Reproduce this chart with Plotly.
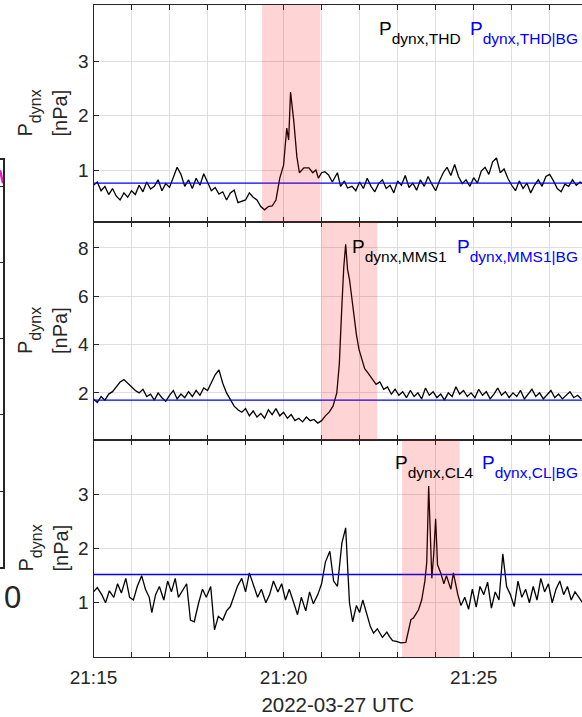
import pandas as pd
import plotly.graph_objects as go

# ---------------- data ----------------
BASE = "2022-03-27 21:15:00"
X_END_S = 771  # visible end of the time axis, seconds after BASE

# THD dynamic pressure (seconds after BASE, nPa)
thd_t = [0, 6, 12, 18, 24, 30, 36, 42, 48, 54,
         60, 66, 72, 78, 84, 90, 96, 102, 108, 114,
         120, 126, 132, 138, 144, 150, 156, 162, 168, 174,
         180, 186, 192, 198, 204, 210, 216, 222, 228, 234,
         240, 246, 252, 258, 264, 270, 276, 282, 288, 294,
         300, 305, 308, 311, 316, 321, 325, 332, 340, 346,
         351, 355, 360, 365, 371, 377, 385, 390, 396, 401,
         408, 414, 420, 426, 432, 438, 444, 450, 456, 462,
         468, 474, 480, 486, 492, 498, 504, 510, 516, 522,
         528, 534, 540, 546, 552, 558, 564, 570, 576, 582,
         588, 594, 600, 606, 612, 618, 624, 630, 636, 642,
         648, 654, 660, 666, 672, 678, 684, 690, 696, 702,
         708, 714, 720, 726, 732, 738, 744, 750, 756, 762,
         768, 774]
thd_v = [0.72, 0.78, 0.62, 0.70, 0.55, 0.66, 0.52, 0.45, 0.58, 0.50,
         0.62, 0.55, 0.72, 0.60, 0.78, 0.65, 0.70, 0.82, 0.62, 0.75,
         0.68, 0.85, 1.05, 0.92, 0.70, 0.82, 0.66, 0.85, 0.72, 0.93,
         0.78, 0.62, 0.68, 0.56, 0.60, 0.45, 0.58, 0.63, 0.40, 0.42,
         0.45, 0.58, 0.50, 0.45, 0.33, 0.27, 0.33, 0.34, 0.45, 0.85,
         1.09, 1.77, 1.55, 2.43, 1.91, 1.24, 0.95, 1.04, 1.04, 0.95,
         1.00, 0.85, 0.95, 0.97, 0.91, 0.78, 0.95, 0.70, 0.80, 0.67,
         0.70, 0.62, 0.78, 0.66, 0.85, 0.70, 0.60, 0.75, 0.82, 0.66,
         0.72, 0.58, 0.80, 0.72, 0.90, 0.68, 0.76, 0.63, 0.82, 0.70,
         0.88, 0.74, 0.62, 0.80, 0.95, 1.05, 0.90, 1.10, 0.88, 0.75,
         0.82, 0.70, 0.86, 0.76, 0.98, 1.05, 0.92, 1.15, 1.22, 0.95,
         1.02, 0.85, 0.72, 0.62, 0.80, 0.66, 0.76, 0.58, 0.72, 0.82,
         0.70, 0.88, 0.92, 0.80, 0.66, 0.60, 0.74, 0.70, 0.82, 0.72,
         0.78, 0.74]

# MMS1 dynamic pressure
mms_t = [0, 6, 12, 18, 24, 30, 36, 42, 48, 54,
         60, 66, 72, 78, 84, 90, 96, 102, 108, 114,
         120, 126, 132, 138, 144, 150, 156, 162, 168, 174,
         180, 186, 192, 198, 204, 210, 216, 222, 228, 234,
         240, 246, 252, 258, 264, 270, 276, 282, 288, 294,
         300, 306, 312, 318, 324, 330, 336, 342, 348, 354,
         360, 366, 372, 378, 384, 388, 392, 395, 398, 401,
         404, 407, 411, 415, 419, 423, 428, 434, 440, 446,
         452, 458, 464, 470, 476, 482, 488, 494, 500, 506,
         512, 518, 524, 530, 536, 542, 548, 554, 560, 566,
         572, 578, 584, 590, 596, 602, 608, 614, 620, 626,
         632, 638, 644, 650, 656, 662, 668, 674, 680, 686,
         692, 698, 704, 710, 716, 722, 728, 734, 740, 746,
         752, 758, 764, 770]
mms_v = [1.75, 1.60, 1.85, 1.70, 1.95, 2.05, 2.25, 2.45, 2.55, 2.40,
         2.25, 2.10, 2.00, 2.15, 1.85, 1.95, 1.70, 2.00, 1.80, 1.65,
         1.90, 2.10, 1.75, 1.95, 1.80, 2.05, 1.85, 2.10, 1.90, 2.20,
         2.10, 2.45, 2.75, 2.95, 2.40, 2.00, 1.70, 1.45, 1.30, 1.20,
         1.35, 1.05, 1.25, 1.00, 1.15, 0.95, 1.30, 1.10, 1.35, 1.05,
         1.20, 0.95, 1.10, 0.85, 0.95, 0.80, 1.00, 0.85, 0.90, 0.75,
         0.85, 1.05, 1.20, 1.45, 2.00, 3.20, 5.60, 7.20, 8.15, 7.10,
         6.70, 6.00, 5.10, 4.40, 3.80, 3.40, 3.00, 2.80, 2.55, 2.35,
         2.45, 2.15, 2.25, 1.95, 2.15, 1.90, 2.05, 1.80, 2.10, 1.85,
         2.00, 1.75, 2.20, 1.90, 2.05, 1.80, 1.95, 1.70, 2.00, 1.85,
         2.25, 1.95, 2.10, 1.85, 2.00, 1.80, 2.15, 1.90, 2.05, 1.75,
         1.95, 2.20, 1.90, 2.05, 1.80, 2.00, 1.85, 2.10, 1.75, 1.95,
         2.15, 1.85, 2.00, 1.75, 1.95, 2.10, 1.80, 1.95, 1.75, 1.90,
         2.05, 1.80, 1.90, 1.75]

# Cluster 4 dynamic pressure
cl_t = [0, 6, 13, 19, 25, 32, 38, 44, 51, 57,
        63, 69, 76, 82, 88, 92, 98, 104, 111, 117,
        123, 129, 134, 141, 147, 153, 159, 166, 172, 178,
        185, 191, 197, 204, 210, 216, 221, 227, 234, 240,
        246, 253, 259, 265, 272, 278, 284, 291, 297, 303,
        309, 316, 322, 328, 335, 341, 347, 354, 360, 366,
        373, 379, 385, 392, 398, 404, 409, 415, 420, 425,
        431, 437, 442, 448, 456, 463, 467, 472, 478, 485,
        493, 501, 505, 513, 518, 523, 526, 529, 534, 537,
        540, 543, 548, 553, 557, 564, 568, 575, 580, 586,
        592, 598, 604, 610, 616, 622, 628, 634, 640, 646,
        652, 658, 664, 670, 676, 682, 688, 694, 700, 706,
        712, 718, 724, 730, 736, 742, 748, 754, 760, 766,
        772]
cl_v = [1.20, 1.28, 1.15, 1.00, 1.22, 1.10, 1.35, 1.18, 1.45, 1.10,
        1.05, 1.30, 1.50, 1.25, 1.10, 0.82, 1.15, 1.30, 1.05, 1.40,
        1.20, 1.45, 1.10, 1.25, 1.35, 0.68, 0.65, 1.00, 1.25, 1.10,
        1.30, 0.50, 0.75, 0.68, 0.85, 0.93, 1.10, 1.30, 1.45, 1.20,
        1.55, 1.30, 1.10, 1.25, 1.00, 1.15, 1.40, 1.20, 1.35, 1.05,
        1.25, 1.00, 0.78, 1.10, 0.85, 1.20, 0.98, 1.15, 1.35, 1.75,
        1.95, 1.40, 1.30, 2.10, 2.38, 1.00, 0.65, 0.95, 0.82, 1.05,
        0.80, 0.56, 0.44, 0.52, 0.36, 0.46, 0.38, 0.30, 0.29, 0.26,
        0.27, 0.69, 0.72, 0.87, 1.05, 1.40, 1.75, 3.15, 1.45, 1.90,
        2.55, 1.70, 1.55, 1.35, 1.50, 1.25, 1.55, 1.15, 0.95, 1.10,
        0.88, 1.25, 0.92, 1.30, 1.15, 1.38, 0.90, 1.20, 1.05, 1.90,
        1.30, 1.15, 0.93, 1.40, 1.10, 1.25, 1.00, 1.30, 1.05, 1.45,
        1.20, 1.35, 1.00, 1.25, 1.40, 1.15, 1.30, 1.05, 1.20, 1.10,
        1.00]

# background levels (nPa)
bg_levels = [0.76, 1.70, 1.52]
# shaded event intervals (seconds after BASE)
event_start = [266, 359, 487]
event_end = [358, 448, 578]

y_ranges = [[0.046, 4.028], [0.05, 9.07], [0.0, 4.0]]
y_ticks = [[1, 2, 3], [2, 4, 6, 8], [1, 2, 3]]
black_base = ["P", "P", "P"]
black_sub = ["dynx,THD", "dynx,MMS1", "dynx,CL4"]
blue_sub = ["dynx,THD|BG", "dynx,MMS1|BG", "dynx,CL|BG"]
minute_ticks = list(range(15, 28))
x_title = "2022-03-27 UTC"

# left neighbouring panel fragment
frag_ticks = [1, 2, 3, 4, 5]
frag_x = [0, 1]
frag_y = [5.22, 5.05]

# ---------------- figure ----------------
W, H = 582, 717
MT, MB = 5, 60
PH = H - MT - MB
FONT = "Liberation Sans, Arial, Helvetica, sans-serif"
AX = "#262626"
GRID = "#dedede"


def pyf(y):
    return (H - MB - y) / PH


def pxf(x):
    return x / W


def subtext(base_txt, sub_txt, size):
    return ("%s<sub><span style='font-size:%spx;baseline-shift:-5px'>%s</span></sub>"
            % (base_txt, size, sub_txt))


base = pd.Timestamp(BASE)


def to_time(seconds):
    return [base + pd.Timedelta(seconds=s) for s in seconds]


series = [(thd_t, thd_v), (mms_t, mms_v), (cl_t, cl_v)]
panel_px = [(5, 222), (222, 440), (440, 657)]

fig = go.Figure()
for i, (tt, vv) in enumerate(series):
    k = "" if i == 0 else str(i + 1)
    fig.add_trace(go.Scatter(x=to_time(tt), y=vv, mode="lines",
                             line=dict(color="black", width=1.3),
                             xaxis="x" + k, yaxis="y" + k, showlegend=False))
    fig.add_trace(go.Scatter(x=to_time([0, X_END_S + 60]), y=[bg_levels[i]] * 2, mode="lines",
                             line=dict(color="#0000ff", width=1.4),
                             xaxis="x" + k, yaxis="y" + k, showlegend=False))

fig.add_trace(go.Scatter(x=frag_x, y=frag_y, mode="lines",
                         line=dict(color="#e020c0", width=2.5),
                         xaxis="x4", yaxis="y4", showlegend=False))

tickvals = [base + pd.Timedelta(minutes=m - 15) for m in minute_ticks]
ticktext = ["21:%02d" % m if m % 5 == 0 else "" for m in minute_ticks]

layout = dict(width=W, height=H, margin=dict(l=0, r=0, t=MT, b=MB, autoexpand=False),
              plot_bgcolor="white", paper_bgcolor="white",
              font=dict(family=FONT, size=19, color=AX), showlegend=False)

shapes = []
annotations = []
for i in range(3):
    k = "" if i == 0 else str(i + 1)
    top, bot = panel_px[i]
    xa = dict(type="date", domain=[93.5 / W, 1], anchor="y" + k,
              range=[base, base + pd.Timedelta(seconds=X_END_S)],
              tickmode="array", tickvals=tickvals, ticktext=ticktext,
              showticklabels=(i == 2), ticks="inside", ticklen=5, tickwidth=1,
              tickcolor=AX, showline=True, linecolor=AX, linewidth=1.2,
              mirror="ticks", showgrid=True, gridcolor=GRID, gridwidth=1,
              zeroline=False, automargin=False, ticklabelstandoff=3,
              tickfont=dict(size=19, color=AX))
    if i > 0:
        xa["matches"] = "x"
    if i == 2:
        xa["title"] = dict(text=x_title, font=dict(size=20.5, color=AX), standoff=10)
    ya = dict(domain=[pyf(bot), pyf(top)], anchor="x" + k, range=y_ranges[i],
              tickmode="array", tickvals=y_ticks[i], ticks="inside", ticklen=5,
              tickcolor=AX, showline=True, linecolor=AX, linewidth=1.2,
              mirror=False, showgrid=True, gridcolor=GRID, zeroline=False,
              automargin=False, tickfont=dict(size=19, color=AX))
    layout["xaxis" + k] = xa
    layout["yaxis" + k] = ya

    shapes.append(dict(type="rect", xref="x" + k, yref="y" + k + " domain",
                       x0=base + pd.Timedelta(seconds=event_start[i]),
                       x1=base + pd.Timedelta(seconds=event_end[i]),
                       y0=0, y1=1, fillcolor="rgba(255,0,0,0.17)", line=dict(width=0),
                       layer="above"))
    yc = pyf((top + bot) / 2)
    annotations.append(dict(text=subtext("P", "dynx", 16), xref="paper", yref="paper",
                            x=pxf(29), y=yc, textangle=-90, showarrow=False,
                            xanchor="center", yanchor="middle",
                            font=dict(size=20, color=AX)))
    annotations.append(dict(text="[nPa]", xref="paper", yref="paper",
                            x=pxf(60), y=yc, textangle=-90, showarrow=False,
                            xanchor="center", yanchor="middle",
                            font=dict(size=20, color=AX)))

label_pos = [((377, 468), 33), ((350, 455), 250), ((393, 480), 466)]
for i in range(3):
    (xb, xl), yc = label_pos[i]
    annotations.append(dict(text=subtext(black_base[i], black_sub[i], 15.5),
                            xref="paper", yref="paper",
                            x=pxf(xb), y=pyf(yc), showarrow=False, xanchor="left",
                            yanchor="middle", font=dict(size=19, color="black")))
    annotations.append(dict(text=subtext(black_base[i], blue_sub[i], 15.5),
                            xref="paper", yref="paper",
                            x=pxf(xl), y=pyf(yc), showarrow=False, xanchor="left",
                            yanchor="middle", font=dict(size=19, color="#0000ff")))

# fragment of the neighbouring panel on the far left
layout["xaxis4"] = dict(domain=[0, 3 / W], anchor="y4", range=[0, 1], showline=True,
                        mirror=True, linecolor=AX, linewidth=1.5, ticks="",
                        showticklabels=False, showgrid=False, zeroline=False,
                        automargin=False)
layout["yaxis4"] = dict(domain=[pyf(567), pyf(160)], anchor="x4", range=[0, 5.355],
                        side="right", showline=True, linecolor=AX, linewidth=1.5,
                        ticks="inside", ticklen=4, tickcolor=AX, tickvals=frag_ticks,
                        showticklabels=False, showgrid=False, zeroline=False,
                        automargin=False)
annotations.append(dict(text="0", xref="paper", yref="paper", x=pxf(12), y=pyf(597),
                        showarrow=False, xanchor="center", yanchor="middle",
                        font=dict(size=31, color=AX)))

layout["shapes"] = shapes
layout["annotations"] = annotations
fig.update_layout(**layout)
fig.write_html("out.html")
